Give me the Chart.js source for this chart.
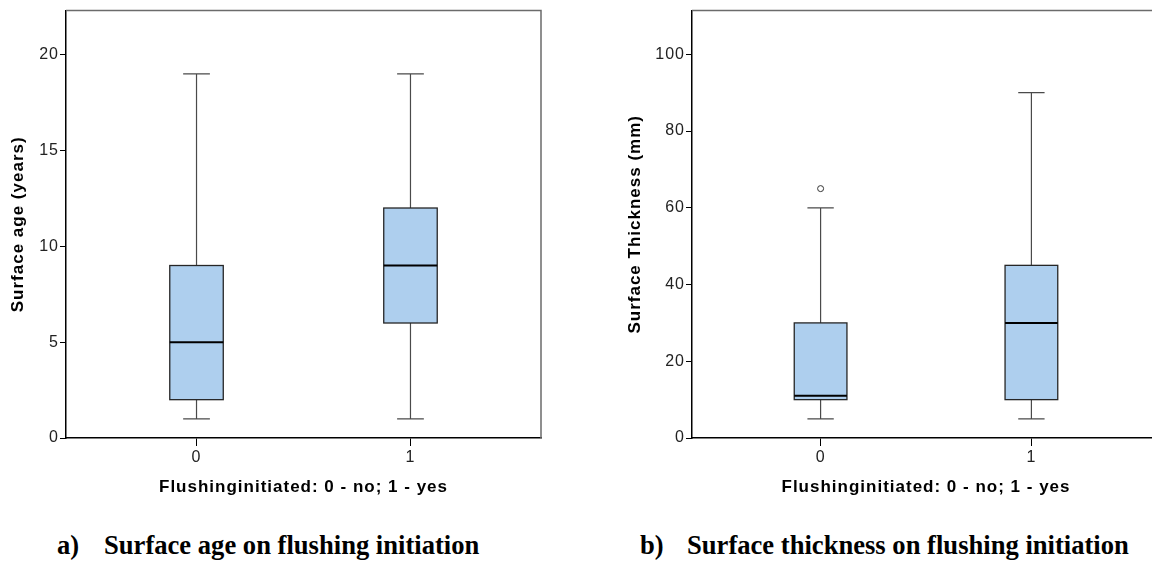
<!DOCTYPE html>
<html>
<head>
<meta charset="utf-8">
<script src="https://cdn.jsdelivr.net/npm/chart.js@4/dist/chart.umd.min.js"></script>
<style>
  body { margin: 0; width: 1152px; height: 565px; overflow: hidden; background: #fff; position: relative; }
  .box { position: absolute; top: 0; }
  .cap { position: absolute; top: 530px; font: bold 26.6px "Liberation Serif", "Times New Roman", serif; color: #000; white-space: nowrap; }
</style>
</head>
<body>
<div class="box" style="left:0"><canvas id="ageChart" width="560" height="520"></canvas></div>
<div class="box" style="left:590px"><canvas id="thickChart" width="580" height="520"></canvas></div>
<div class="cap" style="left:57px">a)</div>
<div class="cap" style="left:104px">Surface age on flushing initiation</div>
<div class="cap" style="left:640px">b)</div>
<div class="cap" style="left:687px">Surface thickness on flushing initiation</div>
<script>
const categories = ['0', '1'];
const xTitle = 'Flushinginitiated: 0 - no; 1 - yes';

// a) surface age (years)
const ageMin = [1, 1];
const ageQ1 = [2, 6];
const ageMedian = [5, 9];
const ageQ3 = [9, 12];
const ageMax = [19, 19];
const ageTicks = [0, 5, 10, 15, 20];

// b) surface thickness (mm)
const thickMin = [5, 5];
const thickQ1 = [10, 10];
const thickMedian = [11, 30];
const thickQ3 = [30, 45];
const thickMax = [60, 90];
const thickOutlierCat = [0];
const thickOutlierVal = [65];
const thickTicks = [0, 20, 40, 60, 80, 100];

const tickFont = { family: 'Liberation Sans, Arial, sans-serif', size: 16 };
const titleFont = { family: 'Liberation Sans, Arial, sans-serif', size: 17, weight: 'bold' };

// spss-like text is a bit wider than plain Arial
const spacing = {
    id: 'spacing',
    beforeDraw(chart) { chart.ctx.letterSpacing = '1px'; }
};

// draws boxes, whiskers and medians through the chart scales
const boxPlot = {
    id: 'boxPlot',
    beforeDatasetsDraw(chart, args, opts) {
        const ctx = chart.ctx;
        const x = chart.scales.x;
        const y = chart.scales.y;
        const area = chart.chartArea;

        // frame (top + right)
        ctx.save();
        ctx.strokeStyle = '#6b6b6b';
        ctx.lineWidth = 1.5;
        ctx.beginPath();
        ctx.moveTo(area.left, area.top);
        ctx.lineTo(area.right, area.top);
        ctx.lineTo(area.right, area.bottom);
        ctx.stroke();

        opts.q1.forEach((q1, i) => {
            const xl = x.getPixelForValue(i - 0.125);
            const xr = x.getPixelForValue(i + 0.125);
            const xc = x.getPixelForValue(i);
            const cl = x.getPixelForValue(i - 0.0625);
            const cr = x.getPixelForValue(i + 0.0625);
            const yMin = y.getPixelForValue(opts.min[i]);
            const yQ1 = y.getPixelForValue(q1);
            const yMed = y.getPixelForValue(opts.median[i]);
            const yQ3 = y.getPixelForValue(opts.q3[i]);
            const yMax = y.getPixelForValue(opts.max[i]);

            // whiskers
            ctx.strokeStyle = '#4a4a4a';
            ctx.lineWidth = 1.2;
            ctx.beginPath();
            ctx.moveTo(xc, yQ3); ctx.lineTo(xc, yMax);
            ctx.moveTo(cl, yMax); ctx.lineTo(cr, yMax);
            ctx.moveTo(xc, yQ1); ctx.lineTo(xc, yMin);
            ctx.moveTo(cl, yMin); ctx.lineTo(cr, yMin);
            ctx.stroke();

            // box
            ctx.fillStyle = '#aecfee';
            ctx.fillRect(xl, yQ3, xr - xl, yQ1 - yQ3);
            ctx.strokeStyle = '#262626';
            ctx.lineWidth = 1.3;
            ctx.strokeRect(xl, yQ3, xr - xl, yQ1 - yQ3);

            // median
            ctx.strokeStyle = '#000';
            ctx.lineWidth = 2;
            ctx.beginPath();
            ctx.moveTo(xl, yMed); ctx.lineTo(xr, yMed);
            ctx.stroke();
        });
        ctx.restore();
    }
};

function makeChart(id, cfg) {
    const outliers = (cfg.outCat || []).map((c, i) => ({ x: c, y: cfg.outVal[i] }));
    return new Chart(document.getElementById(id), {
        type: 'scatter',
        data: {
            datasets: [{
                data: outliers,
                pointStyle: 'circle',
                pointRadius: 3,
                pointBorderWidth: 1,
                pointBorderColor: '#333',
                pointBackgroundColor: '#fff'
            }]
        },
        plugins: [spacing, boxPlot],
        options: {
            responsive: false,
            animation: false,
            layout: { padding: { top: 9, right: cfg.padRight, left: 0, bottom: 0 } },
            scales: {
                x: {
                    type: 'linear',
                    min: -0.61,
                    max: 1.61,
                    afterBuildTicks: (s) => { s.ticks = categories.map((c, i) => ({ value: i })); },
                    afterFit: (s) => { s.height = 82; },
                    ticks: {
                        callback: (v) => categories[v],
                        font: tickFont,
                        color: '#222',
                        padding: 2,
                        maxRotation: 0
                    },
                    grid: { drawOnChartArea: false, drawTicks: true, tickLength: 8, color: '#000' },
                    border: { display: true, color: '#000', width: 1.5 },
                    title: { display: true, text: xTitle, font: titleFont, color: '#000', padding: { top: 0, bottom: 22 } }
                },
                y: {
                    min: 0,
                    max: cfg.yMax,
                    afterBuildTicks: (s) => { s.ticks = cfg.ticks.map(v => ({ value: v })); },
                    afterFit: (s) => { s.width = cfg.yWidth; },
                    ticks: { font: tickFont, color: '#222', padding: 1 },
                    grid: { drawOnChartArea: false, drawTicks: true, tickLength: 6, color: '#000' },
                    border: { display: true, color: '#000', width: 1.5 },
                    title: { display: true, text: cfg.yTitle, font: titleFont, color: '#000', padding: { top: cfg.yTitlePad, bottom: 0 } }
                }
            },
            plugins: {
                legend: { display: false },
                tooltip: { enabled: false },
                boxPlot: { min: cfg.min, q1: cfg.q1, median: cfg.median, q3: cfg.q3, max: cfg.max }
            }
        }
    });
}

makeChart('ageChart', {
    min: ageMin, q1: ageQ1, median: ageMedian, q3: ageQ3, max: ageMax,
    ticks: ageTicks, yMax: 22.3, yTitle: 'Surface age (years)',
    yWidth: 66, yTitlePad: 8, padRight: 19
});

makeChart('thickChart', {
    min: thickMin, q1: thickQ1, median: thickMedian, q3: thickQ3, max: thickMax,
    outCat: thickOutlierCat, outVal: thickOutlierVal,
    ticks: thickTicks, yMax: 111.4, yTitle: 'Surface Thickness (mm)',
    yWidth: 102, yTitlePad: 35, padRight: 10
});
</script>
</body>
</html>
